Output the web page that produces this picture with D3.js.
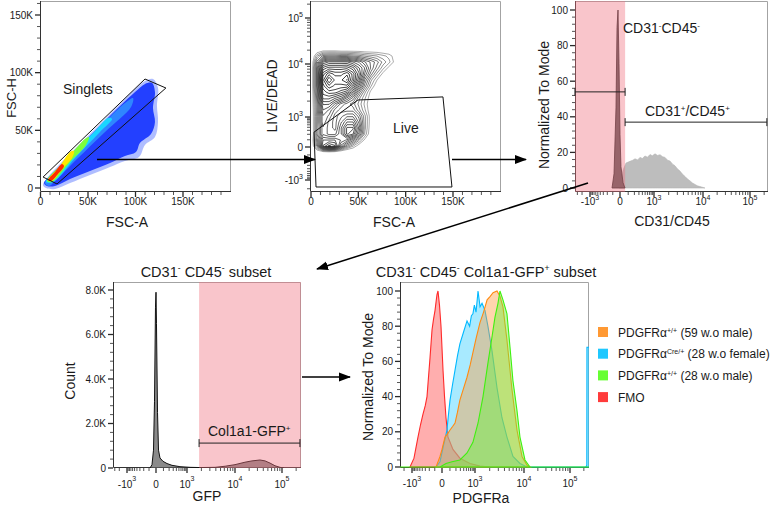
<!DOCTYPE html>
<html>
<head>
<meta charset="utf-8">
<script src="https://cdn.jsdelivr.net/npm/d3@7/dist/d3.min.js"></script>
<style>
  html, body { margin: 0; padding: 0; background: #ffffff; }
  svg { display: block; }
  text { font-family: "Liberation Sans", Arial, Helvetica, sans-serif; fill: #1a1a1a; }
</style>
</head>
<body>
<svg id="chart" width="772" height="510"></svg>
<script>
// ======================= DATA =======================
// shared ticks
const fscTicks = [0, 50000, 100000, 150000];
const fscTickLabels = ["0", "50K", "100K", "150K"];
const fscMinorTicks = [10000, 20000, 30000, 40000, 60000, 70000, 80000, 90000, 110000, 120000, 130000, 140000, 160000, 170000, 180000, 190000];
const biexTicks = [-1000, 0, 1000, 10000, 100000];
const biexTickLabels = [["-10", "3"], ["0", ""], ["10", "3"], ["10", "4"], ["10", "5"]];
const modeTicks = [0, 20, 40, 60, 80, 100];
const modeMinorTicks = [4, 8, 12, 16, 24, 28, 32, 36, 44, 48, 52, 56, 64, 68, 72, 76, 84, 88, 92, 96];
const countTicks = [0, 2000, 4000, 6000, 8000];
const countTickLabels = ["0", "2.0K", "4.0K", "6.0K", "8.0K"];
const countMinorTicks = [400, 800, 1200, 1600, 2400, 2800, 3200, 3600, 4400, 4800, 5200, 5600, 6400, 6800, 7200, 7600];

// Panel 1: FSC-A vs FSC-H density regions, [FSC-A, FSC-H]
const singletsFringe = [[2600,2600],[7900,9500],[20500,20800],[41600,38200],[62600,55500],[83700,72800],[99500,85900],[110000,92800],[118400,94500],[123700,86700],[122600,71100],[123700,57200],[120500,44200],[110000,37300],[103700,26900],[88900,23400],[73200,18200],[52100,11300],[31100,4300],[15300,-900],[5800,0]];
const singletsLow = [[3700,4300],[10000,10400],[20500,19100],[41600,36400],[62600,53800],[83700,71100],[99500,83200],[110000,90200],[117400,91000],[120500,83200],[118400,69400],[120500,57200],[116300,46800],[104700,39000],[100500,31200],[88900,27700],[73200,21700],[52100,14700],[31100,7800],[15300,1700],[6800,1700]];
const singletsMid = [[4700,4300],[31100,26900],[62600,52900],[88900,73700],[97400,78000],[95300,70200],[67900,48600],[39500,26000],[15300,6100],[8900,1700]];
const singletsCyan = [[5800,5200],[31100,26900],[57400,49400],[71100,60700],[75300,59800],[62600,48600],[37400,26900],[13200,5200]];
const singletsGreen = [[6800,6100],[26800,24300],[46800,42500],[51100,44200],[47900,37300],[31100,22500],[12100,5200]];
const singletsYellow = [[7900,6900],[20500,19100],[31100,31200],[35300,32100],[33200,26000],[23700,17300],[12100,6100]];
const singletsRed = [[7900,6900],[15300,13900],[22600,20800],[24700,19100],[18400,12100],[11100,6100]];
const singletsGate = [[2700,9500],[110000,94500],[132000,86700],[17400,3500]];

// Panel 2: LIVE/DEAD vs FSC-A density grid (log-density levels)
const ldFscBins = [0, 6300, 12700, 19000, 25400, 31700, 38000, 44400, 50700, 57000, 63400, 69700, 76100, 82400, 88700, 95100];
const ldDyeBins = [27300, 20200, 14900, 11060, 8410, 6480, 4990, 3850, 2970, 2290, 1760, 1360, 1040, 644, 374, 207, 96, 13, -60, -146];
const ldDensity = [
  [0,0,0,0,0,0,0,0,0,0,0,0,0,0,0,0],
  [0,0.3,0.6,0.6,0.6,0.5,0.5,0.5,0.5,0.4,0.4,0.4,0.3,0.3,0.1,0],
  [0,1.8,3,3.2,3.2,3,3,2.8,2.6,2.3,2.1,1.9,1.6,1.3,0.7,0],
  [0,3,5.5,6,6,6,6,5.5,5,4.2,3.6,3,2.2,1.6,0.8,0],
  [0,3.5,7,7.5,7.5,7.5,7.6,7,6,5,3.6,2.6,1.6,0.8,0.2,0],
  [0,3.5,8,9,8.5,8.5,9,8,6.5,4.5,3,1.8,0.8,0.2,0,0],
  [0,3.5,8.5,10,9,9,9.6,8,6,3.6,2,1,0.3,0,0,0],
  [0,3.5,8,9,8.5,8.5,8.5,7,5,3,1.5,0.5,0,0,0,0],
  [0,3.2,7.5,8,8,7.5,7,5.5,3.5,2,0.8,0,0,0,0,0],
  [0,3,7,7,6.5,6,5,4,2.5,1.5,0.6,0,0,0,0,0],
  [0,2.8,6,6,5,4,3.5,3,2.2,1.3,0.5,0,0,0,0,0],
  [0,2.6,5.5,5,4,3.5,3.5,3.5,2.5,1.5,0.5,0,0,0,0,0],
  [0,2.5,5,4.5,3.5,4,4.5,4.5,3.5,2,0.6,0,0,0,0,0],
  [0,2.5,5,4,3.5,4.5,5.5,5.5,4,2,0.6,0,0,0,0,0],
  [0,2.5,4.5,4,3.5,5,6.5,6.5,4.5,2,0.5,0,0,0,0,0],
  [0,2.5,4.5,4,4,5,6.5,6,4,1.8,0.4,0,0,0,0,0],
  [0,3,5.5,5.5,5.5,5,4.5,3.5,2,0.8,0,0,0,0,0,0],
  [0,2.5,6,7,6.5,4,2.5,1.5,0.6,0,0,0,0,0,0,0],
  [0,0.3,0.7,0.9,0.7,0.3,0,0,0,0,0,0,0,0,0,0],
  [0,0,0,0,0,0,0,0,0,0,0,0,0,0,0,0]
];
const liveGate = [[3200,250],[49600,2100],[139400,2400],[148900,-1740],[5300,-1740]];

// Panel 3: CD31/CD45 histograms, [value, % of mode]
const cd31NegHist = [[-112,0],[-81,8],[-53,45],[-39,90],[-26,100],[-13,70],[0,30],[11,12],[35,3],[58,0]];
const cd31PosHist = [[-13,0],[11,5],[35,10],[71,14],[126,15],[170,15.6],[212,16.4],[270,15.8],[328,17.2],[400,16.6],[495,18],[600,17.3],[734,18.8],[880,18.1],[1050,19.2],[1180,18.3],[1330,18.7],[1500,17.6],[1680,17.2],[1900,15.6],[2130,15.1],[2400,13.4],[2690,12.5],[3000,10.8],[3400,9.5],[3800,7.8],[4300,6.5],[4850,5],[5440,4],[6100,2.8],[6870,2],[7700,1.2],[8690,0.8],[11000,0]];
const cd31NegGate = [-3700, 60];
const cd31PosGate = [60, 240000];
const cd31NegGateLevel = 54;
const cd31PosGateLevel = 37;

// Panel 4: GFP histogram, [value, count]
const gfpHist = [[-84,0],[-55,150],[-34,800],[-20,3000],[-7,7200],[0,7900],[6,6500],[19,2500],[32,800],[51,450],[93,300],[159,200],[267,120],[547,60],[1160,30],[1870,20],[3870,30],[6230,80],[10000,150],[16300,260],[23000,320],[34000,360],[43500,320],[55600,220],[71000,100],[90700,30],[110000,0]];
const gfpGate = [1790, 253000];
const gfpGateLevel = 1120;

// Panel 5: PDGFRa histograms, [value, % of mode]
const fmoHist = [[-1190,0],[-840,5],[-590,17],[-470,24],[-374,30],[-300,35],[-254,40],[-215,52],[-185,62],[-146,78],[-120,84],[-96,89],[-80,94],[-67,98],[-53,100],[-33,92],[-13,80],[12,55],[30,40],[48,28],[73,17],[146,10],[288,5],[670,2],[1265,0.5],[2030,0]];
const cre28FemaleHist = [[-81,0],[-26,3],[12,11],[36,16],[60,21],[80,30],[101,38],[140,47],[182,55],[230,63],[288,70],[400,77],[526,83],[650,80],[750,86],[847,87],[950,92],[1050,88],[1155,100],[1270,91],[1394,93],[1600,89],[1840,80],[2230,66],[2820,45],[3560,28],[4500,17],[5960,6],[8280,2],[11640,0],[220000,0],[232000,1],[233500,68],[262000,68]];
const wt59MaleHist = [[-81,0],[-26,6],[0,10],[36,17],[70,19],[101,21],[140,23],[182,25],[230,31],[288,38],[400,45],[526,51],[680,58],[847,65],[1050,73],[1265,82],[1500,88],[1770,95],[2050,97],[2340,99],[2820,100],[3240,97],[3730,91],[4500,72],[5690,44],[7200,21],[9110,6],[11640,1],[13500,0]];
const wt28MaleHist = [[-2800,0],[-26,0],[48,2],[131,3],[288,4],[526,8],[847,14],[1155,25],[1460,40],[1840,59],[2230,74],[2560,85],[2950,93],[3240,100],[3730,95],[4500,87],[5190,68],[5960,49],[7200,32],[8280,17],[10500,4],[13500,0],[258000,0]];

const legendLabels = [
  [["PDGFRα",0],["+/+",1],[" (59 w.o male)",0]],
  [["PDGFRα",0],["Cre/+",1],[" (28 w.o female)",0]],
  [["PDGFRα",0],["+/+",1],[" (28 w.o male)",0]],
  [["FMO",0]]
];
const legendColors = ["#ff9933", "#1ec8ff", "#66ff33", "#ff3b3b"];

// ======================= RENDER =======================
const svg = d3.select("#chart");
const defs = svg.append("defs");
defs.append("marker").attr("id", "arrowhead").attr("markerUnits", "userSpaceOnUse")
  .attr("viewBox", "0 0 12 10").attr("refX", 11).attr("refY", 5)
  .attr("markerWidth", 12).attr("markerHeight", 10).attr("orient", "auto")
  .append("path").attr("d", "M0,0.5 L12,5 L0,9.5 Z").attr("fill", "#000");

const W = 150;
const asinhT = v => Math.asinh(v / W);
function biexScale(px) {
  const lin = d3.scaleLinear().domain(biexTicks.map(asinhT)).range(px);
  return v => lin(asinhT(v));
}
function biexMinor(lo, hi) {
  const out = [];
  [100, 1000, 10000, 100000].forEach(dec => {
    for (let k = 1; k <= 9; k++) {
      [k * dec, -k * dec].forEach(u => { if (u >= lo && u <= hi && !biexTicks.includes(u)) out.push(u); });
    }
  });
  return out;
}

const B1 = {x0: 40, x1: 231, y0: 1, y1: 192};
const B2 = {x0: 310, x1: 501, y0: 1, y1: 192};
const B3 = {x0: 575, x1: 768, y0: 1, y1: 192};
const B4 = {x0: 113, x1: 301, y0: 282, y1: 468};
const B5 = {x0: 400, x1: 589, y0: 282, y1: 468};

const x1s = d3.scaleLinear().domain([0, 150000]).range([40.5, 183]);
const y1s = d3.scaleLinear().domain([0, 150000]).range([188, 15]);
const x2s = d3.scaleLinear().domain([0, 150000]).range([311, 453]);
const y2s = biexScale([180, 147, 117, 64, 18]);
const x3s = biexScale([590, 620, 654, 703, 750]);
const y3s = d3.scaleLinear().domain([0, 100]).range([188, 10]);
const x4s = biexScale([127, 156, 187, 235, 282]);
const y4s = d3.scaleLinear().domain([0, 8000]).range([468, 290]);
const x5s = biexScale([412, 442, 475, 524, 570]);
const y5s = d3.scaleLinear().domain([0, 100]).range([467, 291]);

function clip(id, b) {
  defs.append("clipPath").attr("id", id).append("rect")
    .attr("x", b.x0).attr("y", b.y0).attr("width", b.x1 - b.x0).attr("height", b.y1 - b.y0);
}
[["c1", B1], ["c2", B2], ["c3", B3], ["c4", B4], ["c5", B5]].forEach(([id, b]) => clip(id, b));

function frame(b) {
  svg.append("path").attr("d", `M${b.x0},${b.y0 + 0.5}H${b.x1 - 0.5}V${b.y1}`)
    .attr("fill", "none").attr("stroke", "#a3a3a3").attr("stroke-width", 1);
  svg.append("path").attr("d", `M${b.x0 + 0.5},${b.y0}V${b.y1 - 0.5}H${b.x1}`)
    .attr("fill", "none").attr("stroke", "#333").attr("stroke-width", 1);
}
function richText(t, parts, supSize, rise) {
  let up = false;
  parts.forEach(([s, sup]) => {
    const ts = t.append("tspan").text(s);
    if (sup) { ts.attr("font-size", supSize); if (!up) { ts.attr("dy", -rise); up = true; } }
    else if (up) { ts.attr("dy", rise); up = false; }
  });
  return t;
}
function bottomTicks(b, scale, majors, minors) {
  const g = svg.append("g").attr("stroke", "#2a2a2a");
  g.selectAll(null).data(minors).enter().append("line")
    .attr("x1", d => scale(d)).attr("x2", d => scale(d)).attr("y1", b.y1).attr("y2", b.y1 + 3).attr("stroke-width", 0.8);
  g.selectAll(null).data(majors).enter().append("line")
    .attr("x1", d => scale(d)).attr("x2", d => scale(d)).attr("y1", b.y1).attr("y2", b.y1 + 5).attr("stroke-width", 1.3);
}
function leftTicks(b, scale, majors, minors) {
  const g = svg.append("g").attr("stroke", "#2a2a2a");
  g.selectAll(null).data(minors).enter().append("line")
    .attr("y1", d => scale(d)).attr("y2", d => scale(d)).attr("x1", b.x0 - 3).attr("x2", b.x0).attr("stroke-width", 0.8);
  g.selectAll(null).data(majors).enter().append("line")
    .attr("y1", d => scale(d)).attr("y2", d => scale(d)).attr("x1", b.x0 - 5).attr("x2", b.x0).attr("stroke-width", 1.3);
}
function bottomLabels(scale, vals, labels, y, rise) {
  vals.forEach((v, i) => {
    const t = svg.append("text").attr("x", scale(v)).attr("y", y).attr("text-anchor", "middle").attr("font-size", 10);
    const lab = labels[i];
    if (Array.isArray(lab)) richText(t, [[lab[0], 0], [lab[1], 1]], 7, rise);
    else t.text(lab);
  });
}
function leftLabels(b, scale, vals, labels, rise) {
  vals.forEach((v, i) => {
    const t = svg.append("text").attr("x", b.x0 - 7).attr("y", scale(v) + 3.5).attr("text-anchor", "end").attr("font-size", 10);
    const lab = labels[i];
    if (Array.isArray(lab)) richText(t, [[lab[0], 0], [lab[1], 1]], 7, rise);
    else t.text(lab);
  });
}
function title(x, y, parts, size, rotate) {
  const t = svg.append("text").attr("text-anchor", "middle").attr("font-size", size);
  if (rotate) t.attr("transform", `translate(${x},${y}) rotate(-90)`);
  else t.attr("x", x).attr("y", y);
  richText(t, parts, size * 0.6, size * 0.38);
  return t;
}
function gateBar(y, xa, xb) {
  const g = svg.append("g").attr("stroke", "#222").attr("stroke-width", 1);
  g.append("line").attr("x1", xa).attr("x2", xb).attr("y1", y).attr("y2", y);
  g.append("line").attr("x1", xa).attr("x2", xa).attr("y1", y - 4).attr("y2", y + 4);
  g.append("line").attr("x1", xb).attr("x2", xb).attr("y1", y - 4).attr("y2", y + 4);
}

// ---------- Panel 1 ----------
frame(B1);
{
  const g = svg.append("g").attr("clip-path", "url(#c1)");
  const line = d3.line().x(d => x1s(d[0])).y(d => y1s(d[1])).curve(d3.curveCatmullRomClosed.alpha(0.5));
  const layers = [
    [singletsFringe, "#6d86ff", 0.55],
    [singletsLow, "#2340ff", 1],
    [singletsMid, "#2f86ff", 1],
    [singletsCyan, "#19d6ff", 1],
    [singletsGreen, "#7dff3a", 1],
    [singletsYellow, "#ffe600", 1],
    [singletsRed, "#ff2a00", 1]
  ];
  layers.forEach(([d, c, o]) => g.append("path").attr("d", line(d)).attr("fill", c).attr("fill-opacity", o));
  svg.append("path").attr("d", d3.line().x(d => x1s(d[0])).y(d => y1s(d[1]))(singletsGate) + "Z")
    .attr("fill", "none").attr("stroke", "#111").attr("stroke-width", 1);
}
leftTicks(B1, y1s, fscTicks, fscMinorTicks.filter(v => y1s(v) > B1.y0));
bottomTicks(B1, x1s, fscTicks, fscMinorTicks);
leftLabels(B1, y1s, fscTicks, fscTickLabels, 0);
bottomLabels(x1s, fscTicks, fscTickLabels, 205, 0);
svg.append("text").attr("x", 63).attr("y", 94).attr("font-size", 14).text("Singlets");
title(16, 98, [["FSC-H", 0]], 13, true);
title(127, 227, [["FSC-A", 0]], 14, false);

// ---------- Panel 2 ----------
frame(B2);
{
  const g = svg.append("g").attr("clip-path", "url(#c2)");
  const nx = ldFscBins.length, ny = ldDyeBins.length;
  const contours = d3.contours().size([nx, ny]).thresholds(d3.range(1, 9.8, 0.45))(ldDensity.flat());
  const colPx = d3.scaleLinear().domain(d3.range(nx)).range(ldFscBins.map(x2s));
  const rowPx = d3.scaleLinear().domain(d3.range(ny)).range(ldDyeBins.map(y2s));
  const proj = d3.geoTransform({ point(x, y) { this.stream.point(colPx(x - 0.5), rowPx(y - 0.5)); } });
  const path = d3.geoPath(proj);
  const shade = d3.scaleLinear().domain([1, 3, 8]).range(["#909090", "#404040", "#0a0a0a"]);
  g.selectAll(null).data(contours).enter().append("path")
    .attr("d", path).attr("fill", "none").attr("stroke", d => shade(d.value)).attr("stroke-width", 0.75)
    .attr("stroke-linejoin", "round");
  svg.append("path").attr("d", d3.line().x(d => x2s(d[0])).y(d => y2s(d[1]))(liveGate) + "Z")
    .attr("fill", "none").attr("stroke", "#111").attr("stroke-width", 1);
}
leftTicks(B2, y2s, biexTicks, biexMinor(-2580, 234000));
bottomTicks(B2, x2s, fscTicks, fscMinorTicks);
leftLabels(B2, y2s, biexTicks, biexTickLabels, 5);
bottomLabels(x2s, fscTicks, fscTickLabels, 205, 0);
svg.append("text").attr("x", 393).attr("y", 133).attr("font-size", 14).text("Live");
title(277, 96, [["LIVE/DEAD", 0]], 14, true);
title(394, 227, [["FSC-A", 0]], 14, false);

// ---------- Panel 3 ----------
frame(B3);
{
  const g = svg.append("g").attr("clip-path", "url(#c3)");
  const area = d3.area().x(d => x3s(d[0])).y0(y3s(0)).y1(d => y3s(d[1]));
  g.append("path").attr("d", area(cd31PosHist)).attr("fill", "#bdbdbd").attr("stroke", "#b3b3b3").attr("stroke-width", 0.6);
  g.append("path").attr("d", area(cd31NegHist)).attr("fill", "#5e5e5e").attr("stroke", "#222").attr("stroke-width", 0.8);
  g.append("rect").attr("x", x3s(cd31NegGate[0])).attr("y", B3.y0).attr("width", x3s(cd31NegGate[1]) - x3s(cd31NegGate[0]))
    .attr("height", B3.y1 - B3.y0).attr("fill", "#ef6e7e").attr("fill-opacity", 0.4);
}
gateBar(y3s(cd31NegGateLevel), x3s(cd31NegGate[0]), x3s(cd31NegGate[1]));
gateBar(y3s(cd31PosGateLevel), x3s(cd31PosGate[0]), x3s(cd31PosGate[1]) - 1);
leftTicks(B3, y3s, modeTicks, modeMinorTicks);
bottomTicks(B3, x3s, biexTicks, biexMinor(-3680, 240000));
leftLabels(B3, y3s, modeTicks, modeTicks.map(String), 0);
bottomLabels(x3s, biexTicks, biexTickLabels, 205, 5);
richText(svg.append("text").attr("x", 623).attr("y", 33).attr("font-size", 14),
  [["CD31", 0], ["-", 1], ["CD45", 0], ["-", 1]], 8, 5);
richText(svg.append("text").attr("x", 645).attr("y", 116).attr("font-size", 14),
  [["CD31", 0], ["+", 1], ["/CD45", 0], ["+", 1]], 8, 5);
title(549, 105, [["Normalized To Mode", 0]], 14, true);
title(672, 226, [["CD31/CD45", 0]], 14, false);

// ---------- Panel 4 ----------
frame(B4);
{
  const g = svg.append("g").attr("clip-path", "url(#c4)");
  const area = d3.area().x(d => x4s(d[0])).y0(y4s(0)).y1(d => y4s(d[1]));
  g.append("path").attr("d", area(gfpHist)).attr("fill", "#8a8a8a").attr("stroke", "#111").attr("stroke-width", 1);
  g.append("rect").attr("x", x4s(gfpGate[0])).attr("y", B4.y0).attr("width", x4s(gfpGate[1]) - x4s(gfpGate[0]))
    .attr("height", B4.y1 - B4.y0).attr("fill", "#ef6e7e").attr("fill-opacity", 0.4);
}
gateBar(y4s(gfpGateLevel), x4s(gfpGate[0]), x4s(gfpGate[1]) - 1);
leftTicks(B4, y4s, countTicks, countMinorTicks);
bottomTicks(B4, x4s, biexTicks, biexMinor(-3520, 253000));
leftLabels(B4, y4s, countTicks, countTickLabels, 0);
bottomLabels(x4s, biexTicks, biexTickLabels, 488, 7);
richText(svg.append("text").attr("x", 208).attr("y", 436).attr("font-size", 14),
  [["Col1a1-GFP", 0], ["+", 1]], 8, 5);
title(206, 277, [["CD31", 0], ["-", 1], [" CD45", 0], ["-", 1], [" subset", 0]], 14.5, false);
title(75, 381, [["Count", 0]], 14, true);
title(207, 501, [["GFP", 0]], 14, false);

// ---------- Panel 5 ----------
frame(B5);
{
  const g = svg.append("g").attr("clip-path", "url(#c5)");
  const area = d3.area().x(d => x5s(d[0])).y0(y5s(0)).y1(d => y5s(d[1]));
  const series = [
    [fmoHist, "#ff6b6b", "#ff2a2a", 0.55],
    [cre28FemaleHist, "#3fd0ff", "#00b8ff", 0.45],
    [wt59MaleHist, "#ff9a3c", "#ff8a10", 0.42],
    [wt28MaleHist, "#6cf23a", "#3ff00f", 0.45]
  ];
  series.forEach(([d, f, s, o]) => g.append("path").attr("d", area(d))
    .attr("fill", f).attr("fill-opacity", o).attr("stroke", s).attr("stroke-width", 1.1));
}
leftTicks(B5, y5s, modeTicks, modeMinorTicks);
bottomTicks(B5, x5s, biexTicks, biexMinor(-2840, 258000));
leftLabels(B5, y5s, modeTicks, modeTicks.map(String), 0);
bottomLabels(x5s, biexTicks, biexTickLabels, 487, 6);
title(486, 277, [["CD31", 0], ["-", 1], [" CD45", 0], ["-", 1], [" Col1a1-GFP", 0], ["+", 1], [" subset", 0]], 14.5, false);
title(373, 377, [["Normalized To Mode", 0]], 14, true);
title(481, 503, [["PDGFRa", 0]], 14, false);

// legend
{
  const lg = svg.append("g").attr("transform", "translate(598,332)");
  legendLabels.forEach((parts, i) => {
    const row = lg.append("g").attr("transform", `translate(0,${i * 21.7})`);
    row.append("rect").attr("x", 0).attr("y", -5).attr("width", 10).attr("height", 10).attr("fill", legendColors[i]);
    richText(row.append("text").attr("x", 20).attr("y", 4.5).attr("font-size", 12), parts, 7, 4);
  });
}

// ---------- connecting arrows ----------
const arrows = [
  [[97, 159.5], [315, 159.5]],
  [[452, 159.5], [526, 159.5]],
  [[588, 183], [317, 269]],
  [[302, 377], [350, 377]]
];
arrows.forEach(([a, b]) => svg.append("line").attr("x1", a[0]).attr("y1", a[1]).attr("x2", b[0]).attr("y2", b[1])
  .attr("stroke", "#000").attr("stroke-width", 1.5).attr("marker-end", "url(#arrowhead)"));
</script>
</body>
</html>
